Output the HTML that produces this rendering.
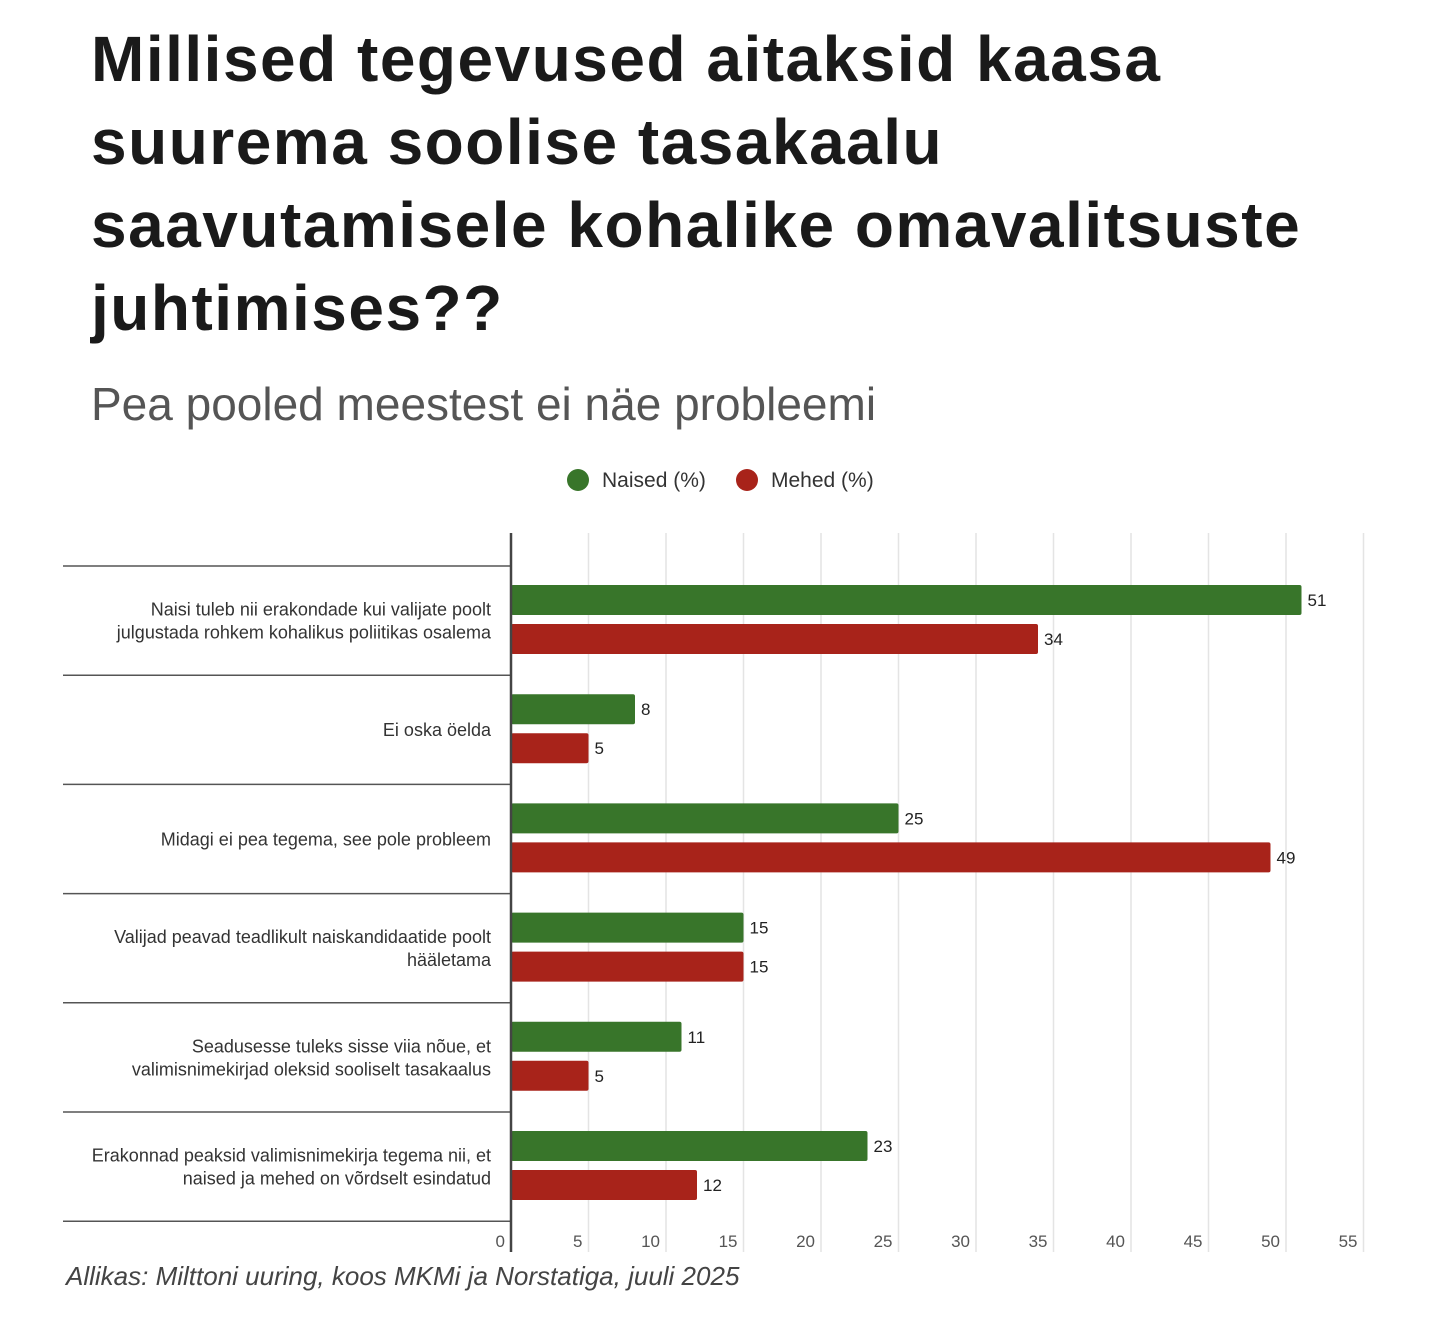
<!DOCTYPE html>
<html><head><meta charset="utf-8"><style>
body{margin:0;width:1456px;height:1324px;background:#fff;font-family:"Liberation Sans",sans-serif;overflow:hidden;position:relative}
h1{position:absolute;left:91px;top:18px;margin:0;font-size:64px;line-height:83px;font-weight:bold;color:#1a1a1a;width:1360px;letter-spacing:1.5px;white-space:nowrap}
.sub{position:absolute;left:91px;top:377px;font-size:46px;color:#555}
.foot{position:absolute;left:66px;top:1261px;font-size:26px;font-style:italic;color:#444}
</style></head><body>
<h1>Millised tegevused aitaksid kaasa<br>suurema soolise tasakaalu<br>saavutamisele kohalike omavalitsuste<br>juhtimises??</h1>
<div class="sub">Pea pooled meestest ei näe probleemi</div>
<svg id="chart" width="1456" height="1324" style="position:absolute;left:0;top:0"></svg>
<div class="foot">Allikas: Milttoni uuring, koos MKMi ja Norstatiga, juuli 2025</div>
<script>
const categories=[["Naisi tuleb nii erakondade kui valijate poolt","julgustada rohkem kohalikus poliitikas osalema"],["Ei oska öelda"],["Midagi ei pea tegema, see pole probleem"],["Valijad peavad teadlikult naiskandidaatide poolt","hääletama"],["Seadusesse tuleks sisse viia nõue, et","valimisnimekirjad oleksid sooliselt tasakaalus"],["Erakonnad peaksid valimisnimekirja tegema nii, et","naised ja mehed on võrdselt esindatud"]];
const naised=[51,8,25,15,11,23];
const mehed=[34,5,49,15,5,12];
const ticks=[0,5,10,15,20,25,30,35,40,45,50,55];
const seriesNames=["Naised (%)","Mehed (%)"];
const colors=["#38752a","#a8231a"];
const svg=document.getElementById('chart');
const NS="http://www.w3.org/2000/svg";
const x=v=>511+v*15.5;
const rowTop=i=>566+i*109.2;
function mk(t,a,txt){const e=document.createElementNS(NS,t);for(const k in a)e.setAttribute(k,a[k]);if(txt!=null)e.textContent=txt;svg.appendChild(e);return e;}
seriesNames.forEach((n,i)=>{
 const lx=i==0?578:747;
 const c=mk('circle',{cx:lx,cy:480,r:11,fill:colors[i]});
 
 
 const t=mk('text',{x:lx+24,y:487,'font-size':21,fill:'#333'},n);
 
 
});
ticks.forEach(v=>{
 if(v>0){const g=mk('line',{x1:x(v),x2:x(v),y1:533,y2:1252,stroke:'#e4e4e4','stroke-width':1.5});
 
 }
 const t=mk('text',{x:x(v)-6,y:1247,'font-size':17,fill:'#555','text-anchor':'end'},String(v));
 
 
});
for(let i=0;i<=categories.length;i++){
 const l=mk('line',{x1:63,x2:510,y1:rowTop(i),y2:rowTop(i),stroke:'#555','stroke-width':1.5});
 
 
}
categories.forEach((c,i)=>{
 const top=rowTop(i);
 const mid=top+55;
 c.forEach((ln,j)=>{
  const y=mid+(j-(c.length-1)/2)*23+6;
  const t=mk('text',{x:491,y:y,'font-size':18,fill:'#333','text-anchor':'end'},ln);
  
  
 });
 [naised[i],mehed[i]].forEach((v,s)=>{
  const by=top+19+s*39;
  const r=mk('rect',{x:x(0),y:by,width:x(v)-x(0),height:30,rx:2,fill:colors[s]});
  
  
  const t=mk('text',{x:x(v)+6,y:by+21,'font-size':17,fill:'#222'},String(v));
  
  
 });
});
const ax=mk('line',{x1:511,x2:511,y1:533,y2:1252,stroke:'#444','stroke-width':2.5});


</script>
</body></html>
